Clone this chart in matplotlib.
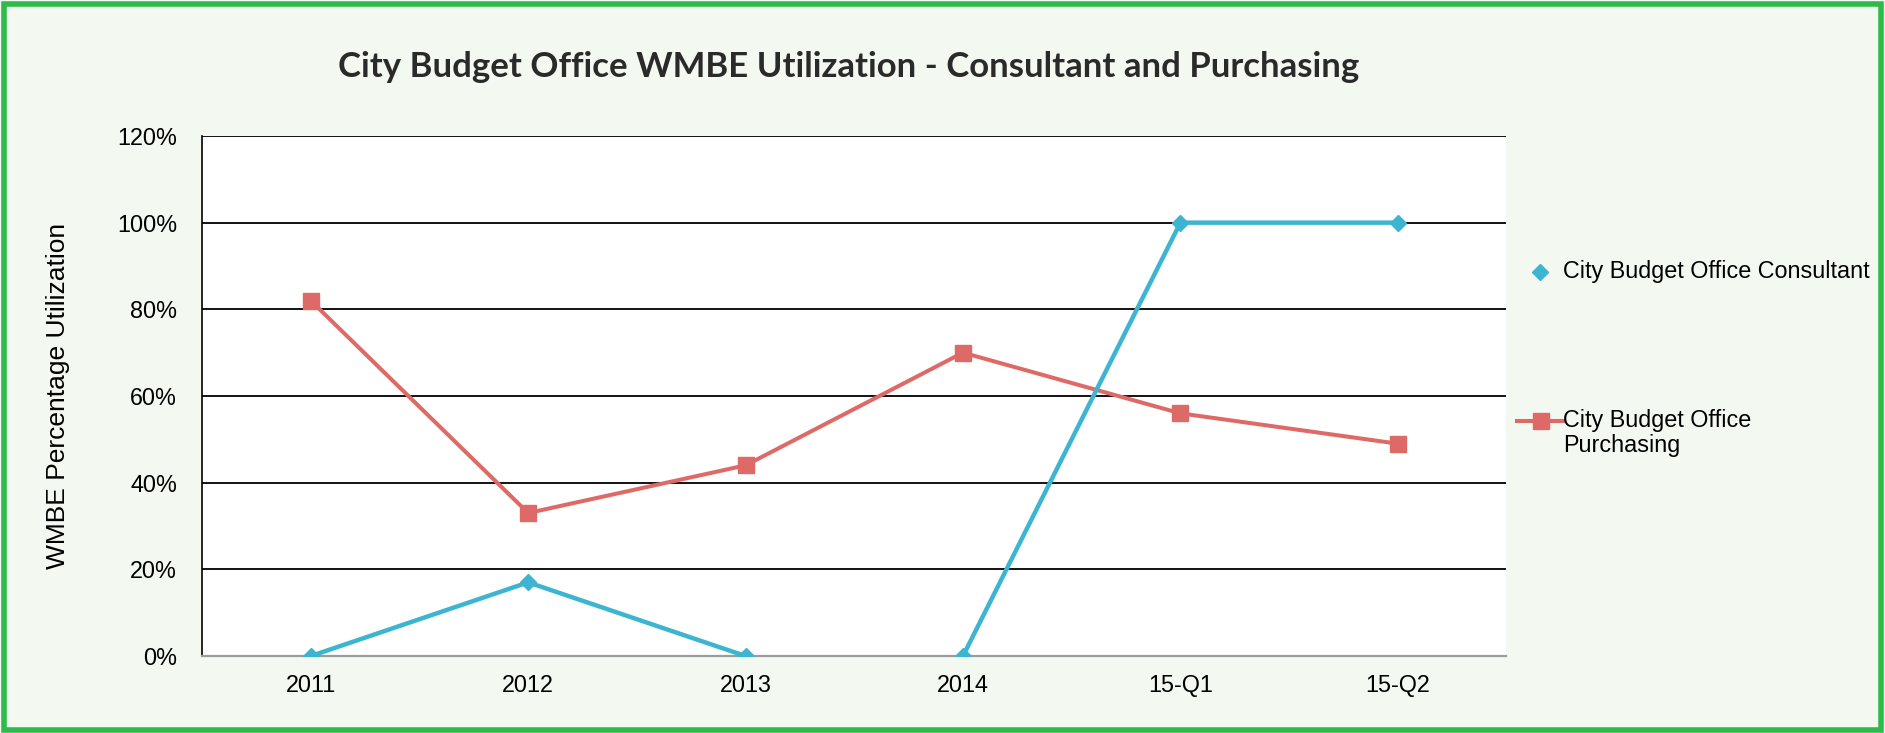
import numpy as np
import matplotlib.pyplot as plt
from matplotlib.lines import Line2D
from matplotlib.patches import Rectangle
from matplotlib.ticker import FuncFormatter

# ===== DATA =====
periods = ["2011", "2012", "2013", "2014", "15-Q1", "15-Q2"]
consultant = [0, 17, 0, 0, 100, 100]
purchasing = [82, 33, 44, 70, 56, 49]
# consultant series is drawn as two runs (no link between 2013 and 2014)
consultant_runs = [(0, 3), (3, 6)]
y_ticks = [0, 20, 40, 60, 80, 100, 120]

TEAL = "#3db4d0"
RED = "#de6a67"
GREEN = "#2dbb4a"
BG = "#f3f8f0"
FS = 16.8

plt.rcParams["font.family"] = ["Liberation Sans", "DejaVu Sans"]

fig = plt.figure(figsize=(18.85, 7.33), dpi=100, facecolor=BG)
ax = fig.add_axes([0.1072, 0.105, 0.692, 0.7095])
ax.set_facecolor("white")

x = np.arange(len(periods)) + 0.5

# purchasing
ax.plot(x, purchasing, color=RED, lw=2.9, marker="s", ms=11, zorder=3)

# consultant
for a, b in consultant_runs:
    ax.plot(x[a:b], consultant[a:b], color=TEAL, lw=3.2, marker="D",
            ms=8.5, zorder=4)

ax.set_xlim(0, len(periods))
ax.set_ylim(0, 120)
ax.set_xticks(x)
ax.set_xticklabels(periods)
ax.set_yticks(y_ticks)
ax.yaxis.set_major_formatter(FuncFormatter(lambda v, p: f"{v:.0f}%"))
ax.tick_params(length=0, labelsize=FS, colors="black")
ax.tick_params(axis="y", pad=18)
ax.tick_params(axis="x", pad=13)

for v in y_ticks[1:]:
    ax.axhline(v, color="black", lw=1.3, zorder=1)

for s in ["top", "right"]:
    ax.spines[s].set_visible(False)
ax.spines["left"].set_color("black")
ax.spines["left"].set_linewidth(1.2)
ax.spines["bottom"].set_color("#9c9c9c")
ax.spines["bottom"].set_linewidth(1.6)

ax.set_ylabel("WMBE Percentage Utilization", fontsize=19)
ax.yaxis.set_label_coords(-0.101, 0.5)

fig.text(0.45, 0.908, "City Budget Office WMBE Utilization - Consultant and Purchasing",
         ha="center", va="center", fontsize=25, fontweight="bold",
         family=["Lato", "DejaVu Sans"], color="#2a2a2a")

# legend
fig.add_artist(Line2D([0.817], [0.629], transform=fig.transFigure,
                      marker="D", ms=8, color=TEAL, ls="none"))
fig.text(0.829, 0.629, "City Budget Office Consultant", ha="left",
         va="center", fontsize=FS)
fig.add_artist(Line2D([0.805, 0.829], [0.426, 0.426], transform=fig.transFigure,
                      color=RED, lw=2.9))
fig.add_artist(Line2D([0.8175], [0.426], transform=fig.transFigure,
                      marker="s", ms=11, color=RED, ls="none"))
fig.text(0.829, 0.426, "City Budget Office", ha="left", va="center",
         fontsize=FS)
fig.text(0.829, 0.392, "Purchasing", ha="left", va="center", fontsize=FS)

# frame
fig.add_artist(Rectangle((0.002, 0.004), 0.996, 0.99, transform=fig.transFigure,
                         fill=False, edgecolor=GREEN, lw=4))

fig.savefig("out.png", dpi=100, facecolor=BG)
